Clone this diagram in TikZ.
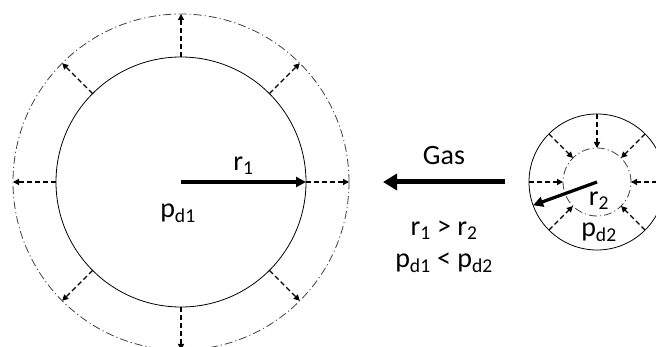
\documentclass[tikz,border=0pt]{standalone}
\usepackage{fontspec}
\setmainfont{Carlito}
\usetikzlibrary{arrows.meta, positioning}

\begin{document}
\begin{tikzpicture}[
        x=1pt, y=-1pt,
        font=\fontsize{28}{32}\selectfont,
        % Styles
        wall/.style={
            circle, draw=black, line width=0.8pt,
            inner sep=0pt, outer sep=0pt
        },
        front/.style={
            circle, draw=black!75, line width=0.8pt,
            dash pattern=on 8pt off 3pt on 1.2pt off 3pt,
            inner sep=0pt, outer sep=0pt
        },
        push/.style={
            -{Triangle[length=6pt, width=6pt]},
            draw=black, line width=1.3pt,
            dash pattern=on 5pt off 3pt
        },
        radius/.style={
            -{Triangle[length=10pt, width=10pt]},
            draw=black, line width=3.2pt
        },
        flow/.style={
            -{Triangle[length=14pt, width=16pt]},
            draw=black, line width=5pt
        },
        label/.style={inner sep=1pt}
    ]
        \clip (0,0) rectangle (656,347);

        % Large bubble
        \node[wall, minimum size=250] (inner1) at (181,182) {};
        \node[front, minimum size=336] (outer1) at (181,182) {};
        \foreach \a in {0,45,...,315}
            \draw[push] (inner1.\a) -- (outer1.\a);
        \draw[radius] (inner1.center) -- node[label, above=5pt] {r\textsubscript{1}} (inner1.east);
        \node[label] (pd1) at (178,213) {p\textsubscript{d1}};

        % Small bubble
        \node[wall, minimum size=136] (outer2) at (597,182) {};
        \node[front, minimum size=68] (inner2) at (597,182) {};
        \foreach \a in {0,45,...,225,315}
            \draw[push] (outer2.\a) -- (inner2.\a);
        \draw[radius] (inner2.center) -- (outer2.200.7);
        \node[label] (r2) at (599,201) {r\textsubscript{2}};
        \node[label] (pd2) at (599,232) {p\textsubscript{d2}};

        % Gas flow
        \coordinate (gasR) at (505,182);
        \coordinate (gasL) at (383,182);
        \draw[flow] (gasR) -- node[label, above=14pt] (gas) {Gas} (gasL);
        \node[label] (cmpr) at (444,230) {r\textsubscript{1} > r\textsubscript{2}};
        \node[label] (cmpp) at (444,263) {p\textsubscript{d1} < p\textsubscript{d2}};

\end{tikzpicture}
\end{document}
